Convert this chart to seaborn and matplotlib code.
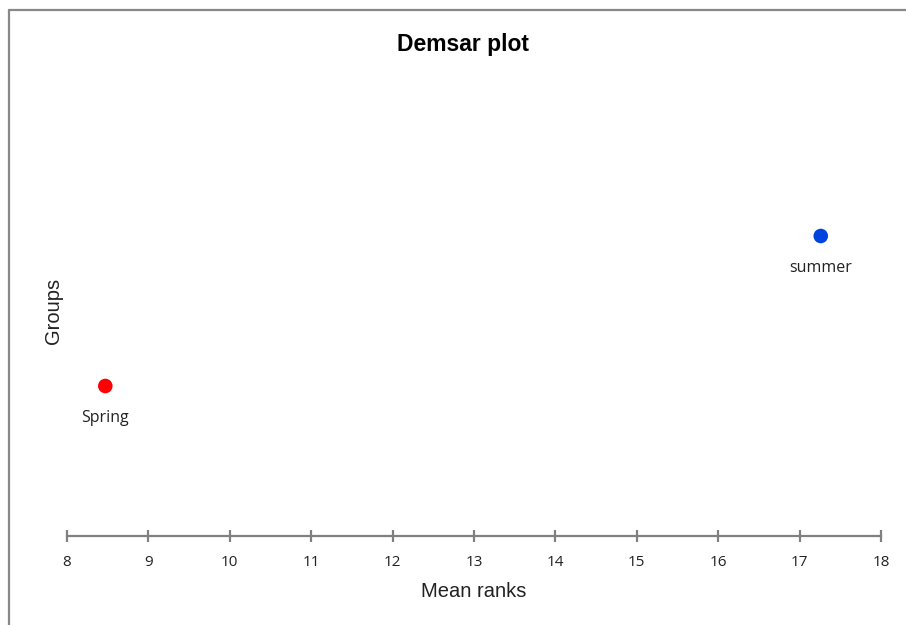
import pandas as pd
import seaborn as sns
import matplotlib.pyplot as plt
from matplotlib.lines import Line2D

# mean ranks
groups = ['Spring', 'summer']
mean_ranks = [8.47, 17.26]
colors = ['#ff0000', '#0044e0']
ticks = list(range(8, 19))

df = pd.DataFrame({'group': groups, 'rank': mean_ranks,
                   'pos': range(1, len(groups) + 1)})

sns.set_style('white')
fig = plt.figure(figsize=(9.06, 6.25), dpi=100)
ax = fig.add_axes([0.074, 0.1424, 0.8984, 0.72])

sns.scatterplot(data=df, x='rank', y='pos', hue='group',
                palette=dict(zip(groups, colors)), s=110,
                edgecolor='none', legend=False, ax=ax)

for _, row in df.iterrows():
    ax.annotate(row['group'], (row['rank'], row['pos']),
                xytext=(0, -23), textcoords='offset points',
                ha='center', va='center', fontsize=11.5,
                family='Open Sans', color='#222222')

ax.set_xlim(8, 18)
ax.set_ylim(0, 3)
ax.set_xticks(ticks)
ax.set_yticks([])
for s in ['top', 'right', 'left']:
    ax.spines[s].set_visible(False)
ax.spines['bottom'].set_color('#808080')
ax.spines['bottom'].set_linewidth(1.6)
ax.tick_params(axis='x', bottom=True, direction='inout', length=8, width=1.6,
               color='#808080', labelsize=11, pad=9.5, labelcolor='#222222')
for lab in ax.get_xticklabels():
    lab.set_family('Open Sans')

ax.set_xlabel('Mean ranks', family='Liberation Sans', fontsize=14.5,
              color='#222222', labelpad=9)
ax.set_ylabel('Groups', family='Liberation Sans', fontsize=14.5,
              color='#222222')
ax.yaxis.set_label_coords(-0.005, 0.5)

fig.text(0.511, 0.929, 'Demsar plot', ha='center', va='center',
         family='Liberation Sans', fontsize=16.5, fontweight='bold',
         color='black')

# outer frame on left and top
fig.add_artist(Line2D([0.0095, 0.0095], [0, 0.984], color='#888888',
                      lw=1.6, transform=fig.transFigure))
fig.add_artist(Line2D([0.0095, 1], [0.984, 0.984], color='#888888',
                      lw=1.6, transform=fig.transFigure))

fig.savefig('out.png', dpi=100)
